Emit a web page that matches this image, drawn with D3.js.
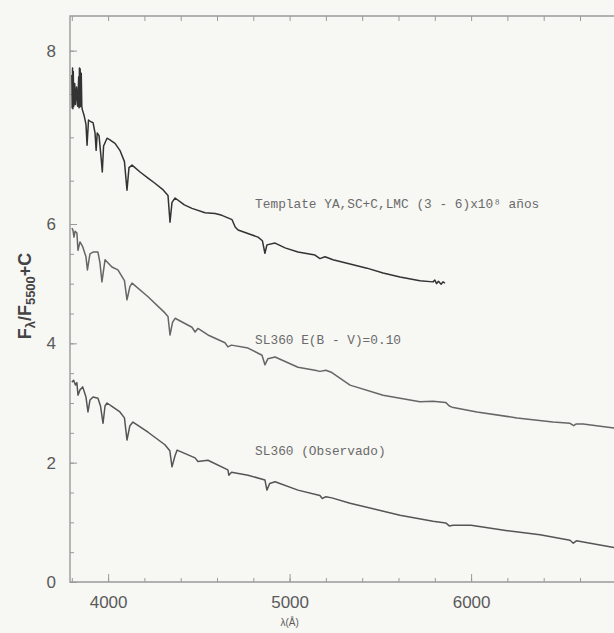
<!DOCTYPE html>
<html>
<head>
<meta charset="utf-8">
<script src="https://cdn.jsdelivr.net/npm/d3@7"></script>
<style>
  html, body { margin: 0; padding: 0; background: #f7f7f4; }
  svg { display: block; }
</style>
</head>
<body>
<svg id="chart" width="614" height="633"></svg>
<script>
// Spectra as [wavelength (Å), F_λ/F_5500 + C]
const templateSpectrum = [
  [3800, 7.72], [3802, 7.34], [3804, 7.80], [3806, 7.33], [3808, 7.76], [3811, 7.36],
  [3816, 7.62], [3820, 7.38], [3826, 7.58], [3832, 7.36], [3838, 7.70], [3840, 7.34],
  [3842, 7.80], [3844, 7.35], [3846, 7.79], [3849, 7.36], [3852, 7.74], [3855, 7.36],
  [3858, 7.32], [3868, 7.25], [3878, 7.15],
  [3884, 6.91], [3892, 7.20], [3905, 7.18], [3917, 7.17], [3928, 7.05], [3934, 6.85],
  [3940, 7.05], [3950, 7.02], [3962, 6.75], [3968, 6.60], [3975, 6.90], [3994, 6.99],
  [4010, 6.97], [4038, 6.93], [4065, 6.85], [4090, 6.72], [4104, 6.39], [4115, 6.65],
  [4132, 6.68], [4176, 6.60], [4220, 6.53], [4258, 6.47], [4300, 6.40], [4330, 6.33],
  [4341, 6.02], [4352, 6.25], [4369, 6.30], [4420, 6.22], [4462, 6.18], [4534, 6.13],
  [4590, 6.12], [4627, 6.10], [4660, 6.07], [4683, 6.05], [4700, 5.95], [4716, 5.90],
  [4770, 5.84], [4826, 5.78], [4850, 5.72], [4864, 5.51], [4875, 5.65], [4920, 5.68],
  [4975, 5.60], [5046, 5.53], [5140, 5.48], [5167, 5.42], [5195, 5.45], [5239, 5.40],
  [5333, 5.33], [5426, 5.26], [5515, 5.18], [5608, 5.11], [5718, 5.05], [5790, 5.03],
  [5800, 5.06], [5810, 5.00], [5820, 5.04], [5835, 4.99], [5845, 5.03], [5856, 5.01]
];

const sl360Reddened = [
  [3800, 5.93], [3806, 5.90], [3812, 5.78], [3818, 5.88], [3828, 5.85], [3834, 5.56],
  [3845, 5.70], [3860, 5.62], [3878, 5.45], [3886, 5.23], [3900, 5.50], [3917, 5.53],
  [3944, 5.53], [3955, 5.35], [3966, 5.03], [3983, 5.40], [4021, 5.28], [4054, 5.23],
  [4090, 5.05], [4104, 4.73], [4120, 4.95], [4132, 5.01], [4220, 4.78], [4313, 4.51],
  [4330, 4.45], [4341, 4.14], [4355, 4.35], [4369, 4.42], [4462, 4.27], [4479, 4.19],
  [4495, 4.25], [4550, 4.14], [4644, 4.01], [4660, 3.94], [4680, 3.97], [4771, 3.92],
  [4848, 3.80], [4864, 3.64], [4880, 3.74], [4920, 3.77], [5046, 3.60], [5140, 3.55],
  [5167, 3.53], [5200, 3.55], [5233, 3.51], [5333, 3.30], [5515, 3.13], [5718, 3.02],
  [5790, 3.03], [5860, 3.01], [5880, 2.95], [5895, 2.93], [6032, 2.85], [6253, 2.75],
  [6451, 2.68], [6545, 2.66], [6565, 2.62], [6580, 2.65], [6617, 2.65], [6787, 2.58],
  [6830, 2.56]
];

const sl360Observed = [
  [3800, 3.35], [3810, 3.38], [3820, 3.30], [3828, 3.34], [3834, 3.13], [3845, 3.22],
  [3860, 3.27], [3878, 3.10], [3889, 2.85], [3900, 3.05], [3917, 3.10], [3944, 3.08],
  [3958, 2.95], [3972, 2.66], [3983, 2.95], [3994, 3.00], [4027, 2.93], [4065, 2.85],
  [4090, 2.75], [4104, 2.38], [4120, 2.62], [4137, 2.68], [4220, 2.51], [4313, 2.30],
  [4340, 2.20], [4352, 1.93], [4369, 2.12], [4380, 2.21], [4479, 2.08], [4495, 2.02],
  [4550, 2.04], [4660, 1.88], [4665, 1.79], [4680, 1.84], [4771, 1.79], [4864, 1.71],
  [4875, 1.54], [4890, 1.65], [4920, 1.68], [5046, 1.54], [5167, 1.45], [5180, 1.40],
  [5200, 1.43], [5233, 1.41], [5333, 1.32], [5608, 1.12], [5790, 1.02], [5860, 0.99],
  [5880, 0.94], [5900, 0.95], [6000, 0.95], [6200, 0.86], [6380, 0.79], [6545, 0.70],
  [6563, 0.65], [6580, 0.69], [6787, 0.58], [6830, 0.56]
];

const seriesNames = [
  "Template YA,SC+C,LMC (3 - 6)x10⁸ años",
  "SL360 E(B - V)=0.10",
  "SL360  (Observado)"
];
// label anchors in data units [wavelength, flux]
const labelAnchors = [[4810, 6.24], [4810, 4.06], [4810, 2.20]];

const xMajorTicks = [4000, 5000, 6000];
const xMinorTicks = d3.range(3800, 6900, 200);
const yMajorTicks = [0, 2, 4, 6, 8];
const yMinorTicks = d3.range(0, 8.01, 0.5);

const svg = d3.select("#chart");

const x = d3.scaleLinear().domain([3790, 6848]).range([70, 625]);
// the printed vertical axis is stretched above 6
const y = d3.scaleLinear().domain([0, 6, 8.4]).range([582, 224, 16]);

const frameColor = "#9a9a9a";
const textColor = "#5a5a5a";

// frame
svg.append("path")
  .attr("d", `M${x.range()[1]},${y(8.4)}H${x.range()[0]}V${y(0)}H${x.range()[1]}`)
  .attr("fill", "none")
  .attr("stroke", frameColor)
  .attr("stroke-width", 1.4);

function styleAxis(g) {
  g.select(".domain").remove();
  g.selectAll(".tick line").attr("stroke", frameColor).attr("stroke-width", 1);
  g.selectAll(".tick text")
    .attr("fill", textColor)
    .attr("font-family", "Liberation Sans, Arial, sans-serif");
}

// bottom axis
svg.append("g")
  .attr("transform", `translate(0,${y(0)})`)
  .call(d3.axisBottom(x).tickValues(xMinorTicks).tickSize(-4).tickFormat(""))
  .call(styleAxis);
svg.append("g")
  .attr("transform", `translate(0,${y(0)})`)
  .call(d3.axisBottom(x).tickValues(xMajorTicks).tickSize(-8).tickPadding(14).tickFormat(d3.format("d")))
  .call(styleAxis)
  .call(g => g.selectAll(".tick text").attr("font-size", 17));

// top axis
svg.append("g")
  .attr("transform", `translate(0,${y(8.4)})`)
  .call(d3.axisTop(x).tickValues(xMinorTicks).tickSize(-5).tickFormat(""))
  .call(styleAxis);

// left axis
svg.append("g")
  .attr("transform", `translate(${x(3790)},0)`)
  .call(d3.axisLeft(y).tickValues(yMinorTicks).tickSize(-4).tickFormat(""))
  .call(styleAxis);
svg.append("g")
  .attr("transform", `translate(${x(3790)},0)`)
  .call(d3.axisLeft(y).tickValues(yMajorTicks).tickSize(-7).tickPadding(14).tickFormat(d3.format("d")))
  .call(styleAxis)
  .call(g => g.selectAll(".tick text").attr("font-size", 17));

// spectra
const line = d3.line().x(d => x(d[0])).y(d => y(d[1]));
const spectra = [templateSpectrum, sl360Reddened, sl360Observed];
const strokes = ["#333333", "#666666", "#555555"];

svg.append("g")
  .selectAll("path")
  .data(spectra)
  .join("path")
  .attr("d", line)
  .attr("fill", "none")
  .attr("stroke", (d, i) => strokes[i])
  .attr("stroke-width", 1.5)
  .attr("stroke-linejoin", "round");

// series labels
svg.append("g")
  .selectAll("text")
  .data(seriesNames)
  .join("text")
  .attr("x", (d, i) => x(labelAnchors[i][0]))
  .attr("y", (d, i) => y(labelAnchors[i][1]))
  .attr("dy", "0.35em")
  .attr("font-family", "Liberation Mono, DejaVu Sans Mono, monospace")
  .attr("font-size", 12.8)
  .attr("fill", "#6a6a6a")
  .text(d => d);

// axis titles
const yTitle = svg.append("text")
  .attr("transform", `translate(31,296) rotate(-90)`)
  .attr("text-anchor", "middle")
  .attr("font-family", "Liberation Sans, Arial, sans-serif")
  .attr("font-weight", "bold")
  .attr("font-size", 18)
  .attr("fill", "#444");
yTitle.append("tspan").text("F");
yTitle.append("tspan").attr("font-size", 13).attr("dy", 4).text("λ");
yTitle.append("tspan").attr("dy", -4).text("/F");
yTitle.append("tspan").attr("font-size", 13).attr("dy", 4).text("5500");
yTitle.append("tspan").attr("dy", -4).text("+C");

svg.append("text")
  .attr("x", x(5000))
  .attr("y", 626)
  .attr("text-anchor", "middle")
  .attr("font-family", "Liberation Sans, Arial, sans-serif")
  .attr("font-size", 10)
  .attr("fill", textColor)
  .text("λ(Å)");
</script>
</body>
</html>
